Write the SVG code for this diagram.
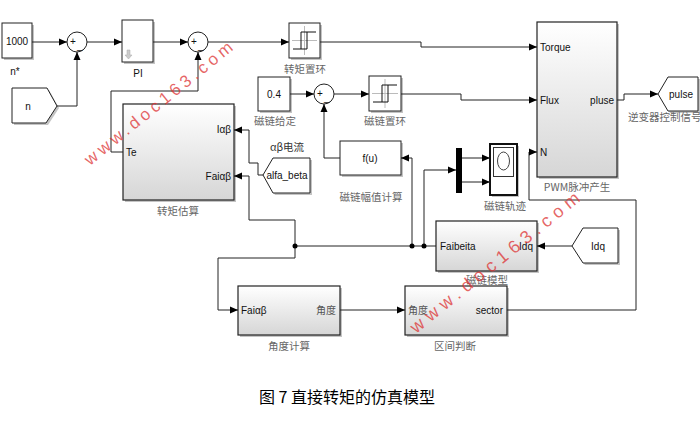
<svg xmlns="http://www.w3.org/2000/svg" width="700" height="424" viewBox="0 0 700 424">
<defs>
<linearGradient id="g" x1="0" y1="0" x2="0" y2="1"><stop offset="0" stop-color="#ffffff"/><stop offset="1" stop-color="#d6d6d6"/></linearGradient>
<marker id="a" markerUnits="userSpaceOnUse" markerWidth="8" markerHeight="8" refX="8" refY="4" orient="auto"><path d="M0,0.5 L8,4 L0,7.5 z" fill="#000"/></marker>
<style>
.b{fill:#fff;stroke:#222;stroke-width:1}
.s{fill:url(#g);stroke:#222;stroke-width:1.2}
.sh{fill:#c4c4c4}
.w{fill:none;stroke:#222;stroke-width:1}
.ar{marker-end:url(#a)}
.t{font-family:"Liberation Sans",Arial,sans-serif;font-size:10px;fill:#111}
.m{text-anchor:middle}
.e{text-anchor:end}
.c{font-family:"Noto Sans CJK SC",sans-serif;font-size:10.5px;fill:#666;text-anchor:middle}
.cp{font-family:"Noto Sans CJK SC",sans-serif;font-size:10px;fill:#555}
.ic{fill:none;stroke:#bbb;stroke-width:1}
.ik{fill:none;stroke:#111;stroke-width:1}
.wm{font-family:"Liberation Sans",Arial,sans-serif;fill:#d33;fill-opacity:.75}
</style>
</defs>
<rect width="700" height="424" fill="#fff"/>

<g id="const1000">
<rect class="sh" x="4" y="25" width="30" height="35"/>
<rect class="b" x="2" y="23" width="30" height="35"/>
<text class="t m" x="17" y="45" font-size="11">1000</text>
<text class="t m" x="15" y="75" font-size="11">n*</text>
</g>

<g id="sum1">
<circle class="b" cx="77" cy="42" r="10"/>
<text class="t" x="70" y="45" font-size="8">+</text>
<text class="t" x="77" y="49" font-size="8">_</text>
</g>

<g id="from_n">
<polygon points="14,90 49,90 59,108 48,125 14,125" fill="#c4c4c4"/>
<polygon class="b" points="12,88 47,88 57,106 46,123 12,123"/>
<text class="t m" x="28" y="110" font-size="11">n</text>
</g>

<g id="PI">
<rect class="sh" x="124" y="22" width="31" height="42"/>
<rect class="b" x="122" y="20" width="31" height="42"/>
<path d="M127 50 h3 v5 h2 l-3.5 4 l-3.5 -4 h2 z" fill="#ccc" stroke="#aaa" stroke-width=".5"/>
<text class="t m" x="138" y="77" font-size="11">PI</text>
</g>

<g id="sum2">
<circle class="b" cx="198" cy="42" r="10"/>
<text class="t" x="191" y="45" font-size="8">+</text>
<text class="t" x="198" y="49" font-size="8">_</text>
</g>

<g id="torque_relay">
<rect class="sh" x="291" y="25" width="31" height="35"/>
<rect class="b" x="289" y="23" width="31" height="35"/>
<path class="ic" d="M304.5 26 V55 M292 40.5 H317"/>
<path class="ik" d="M293 49 H307 V32 M301 49 V32 H316"/>
<text class="c" x="305" y="73">转矩置环</text>
</g>

<g id="const04">
<rect class="sh" x="260" y="79" width="32" height="34"/>
<rect class="b" x="258" y="77" width="32" height="34"/>
<text class="t m" x="274" y="98" font-size="11">0.4</text>
<text class="c" x="275" y="125">磁链给定</text>
</g>

<g id="sum3">
<circle class="b" cx="324" cy="94" r="10"/>
<text class="t" x="317" y="97" font-size="8">+</text>
<text class="t" x="324" y="101" font-size="8">_</text>
</g>

<g id="flux_relay">
<rect class="sh" x="371" y="78" width="32" height="35"/>
<rect class="b" x="369" y="76" width="32" height="35"/>
<path class="ic" d="M385 79 V108 M372 93.5 H398"/>
<path class="ik" d="M373 102 H388 V85 M382 102 V85 H397"/>
<text class="c" x="385" y="125">磁链置环</text>
</g>

<g id="PWM">
<rect class="sh" x="539" y="24" width="80" height="155"/>
<rect class="s" x="537" y="22" width="80" height="155"/>
<text class="t" x="540" y="51">Torque</text>
<text class="t" x="540" y="104">Flux</text>
<text class="t" x="540" y="156">N</text>
<text class="t e" x="614" y="104">pluse</text>
<text class="c" x="577" y="191" font-size="11">PWM脉冲产生</text>
</g>

<g id="goto_pulse">
<polygon points="670,79 700,79 700,113 670,113 660,96" fill="#c4c4c4"/>
<polygon class="b" points="668,77 698,77 698,111 668,111 658,94"/>
<text class="t m" x="681" y="98" font-size="11">pulse</text>
<text class="c" x="628" y="121" font-size="9" style="text-anchor:start">逆变器控制信号</text>
</g>

<g id="torque_est">
<rect class="sh" x="125" y="106" width="111" height="96"/>
<rect class="s" x="123" y="104" width="111" height="96"/>
<text class="t e" x="231" y="133">Iαβ</text>
<text class="t e" x="231" y="180">Faiαβ</text>
<text class="t" x="126" y="156">Te</text>
<text class="c" x="178" y="215">转矩估算</text>
</g>

<g id="from_alfa_beta">
<polygon points="275,160 312,160 312,195 275,195 265,177" fill="#c4c4c4"/>
<polygon class="b" points="273,158 310,158 310,193 273,193 263,175"/>
<text class="t m" x="287" y="179">alfa_beta</text>
<text class="c" x="287" y="151" font-size="11" style="fill:#333">αβ电流</text>
</g>

<g id="fu">
<rect class="sh" x="342" y="143" width="61" height="34"/>
<rect class="b" x="340" y="141" width="61" height="34"/>
<text class="t m" x="370" y="162" font-size="12">f(u)</text>
<text class="c" x="371" y="201">磁链幅值计算</text>
</g>

<g id="mux">
<rect x="456" y="148" width="6" height="45" fill="#000"/>
</g>

<g id="scope">
<rect class="sh" x="492" y="146" width="27" height="51"/>
<rect x="490" y="144" width="27" height="51" fill="#fff" stroke="#111" stroke-width="2"/>
<rect x="493.5" y="147.5" width="20" height="29" fill="#fff" stroke="#333" stroke-width="1"/>
<ellipse cx="503.5" cy="161" rx="6" ry="9" fill="none" stroke="#444" stroke-width="1"/>
<text class="c" x="505" y="210">磁链轨迹</text>
</g>

<g id="flux_model">
<rect class="sh" x="438" y="223" width="101" height="50"/>
<rect class="s" x="436" y="221" width="101" height="50"/>
<text class="t" x="440" y="250">Faibeita</text>
<text class="t e" x="533" y="250">Idq</text>
<text class="c" x="487" y="284">磁链模型</text>
</g>

<g id="from_Idq">
<polygon points="585,230 620,230 620,265 585,265 574,248" fill="#c4c4c4"/>
<polygon class="b" points="583,228 618,228 618,263 583,263 572,246"/>
<text class="t m" x="598" y="250" font-size="11">Idq</text>
</g>

<g id="angle_calc">
<rect class="sh" x="240" y="288" width="102" height="49"/>
<rect class="s" x="238" y="286" width="102" height="49"/>
<text class="t" x="241" y="314">Faiαβ</text>
<text class="cp e" x="336" y="314">角度</text>
<text class="c" x="289" y="350">角度计算</text>
</g>

<g id="sector_judge">
<rect class="sh" x="407" y="288" width="102" height="49"/>
<rect class="s" x="405" y="286" width="102" height="49"/>
<text class="cp" x="408" y="314">角度</text>
<text class="t e" x="503" y="314">sector</text>
<text class="c" x="455" y="350">区间判断</text>
</g>

<g id="connectors">
<path class="w ar" d="M32 42 H67"/>
<path class="w ar" d="M57 106 H77 V52"/>
<path class="w ar" d="M87 42 H122"/>
<path class="w ar" d="M153 42 H188"/>
<path class="w ar" d="M123 152 H111 V91 H198 V52"/>
<path class="w ar" d="M208 42 H289"/>
<path class="w ar" d="M320 42 H421 V47 H537"/>
<path class="w ar" d="M290 94 H314"/>
<path class="w ar" d="M334 94 H369"/>
<path class="w ar" d="M401 94 H461 V100 H537"/>
<path class="w ar" d="M340 158 H324 V104"/>
<path class="w ar" d="M412 246 V158 H401"/>
<path class="w ar" d="M424 246 V170 H456"/>
<path class="w ar" d="M462 158 H490"/>
<path class="w ar" d="M462 182 H490"/>
<path class="w ar" d="M617 100 H624 V94 H658"/>
<path class="w ar" d="M263 175 H258 V163 H249 V130 H234"/>
<path class="w ar" d="M436 246 H295 V220 H249 V176 H234"/>
<path class="w ar" d="M295 246 V258 H218 V310 H238"/>
<path class="w ar" d="M340 310 H405"/>
<path class="w ar" d="M572 246 H537"/>
<path class="w ar" d="M507 310 H636 V200 H529 V152 H537"/>
<circle cx="295" cy="246" r="2.5" fill="#000"/>
<circle cx="412" cy="246" r="2.5" fill="#000"/>
<circle cx="424" cy="246" r="2.5" fill="#000"/>
</g>

<text class="wm" font-size="17" letter-spacing="4" transform="translate(90,166) rotate(-39)">www.doc163.com</text>
<text class="wm" font-size="18" letter-spacing="5.5" transform="translate(416,334) rotate(-39)">www.doc163.com</text>

<text x="347" y="403" font-family="'Noto Sans CJK SC',sans-serif" font-size="16" fill="#000" text-anchor="middle">图 7 直接转矩的仿真模型</text>
</svg>
